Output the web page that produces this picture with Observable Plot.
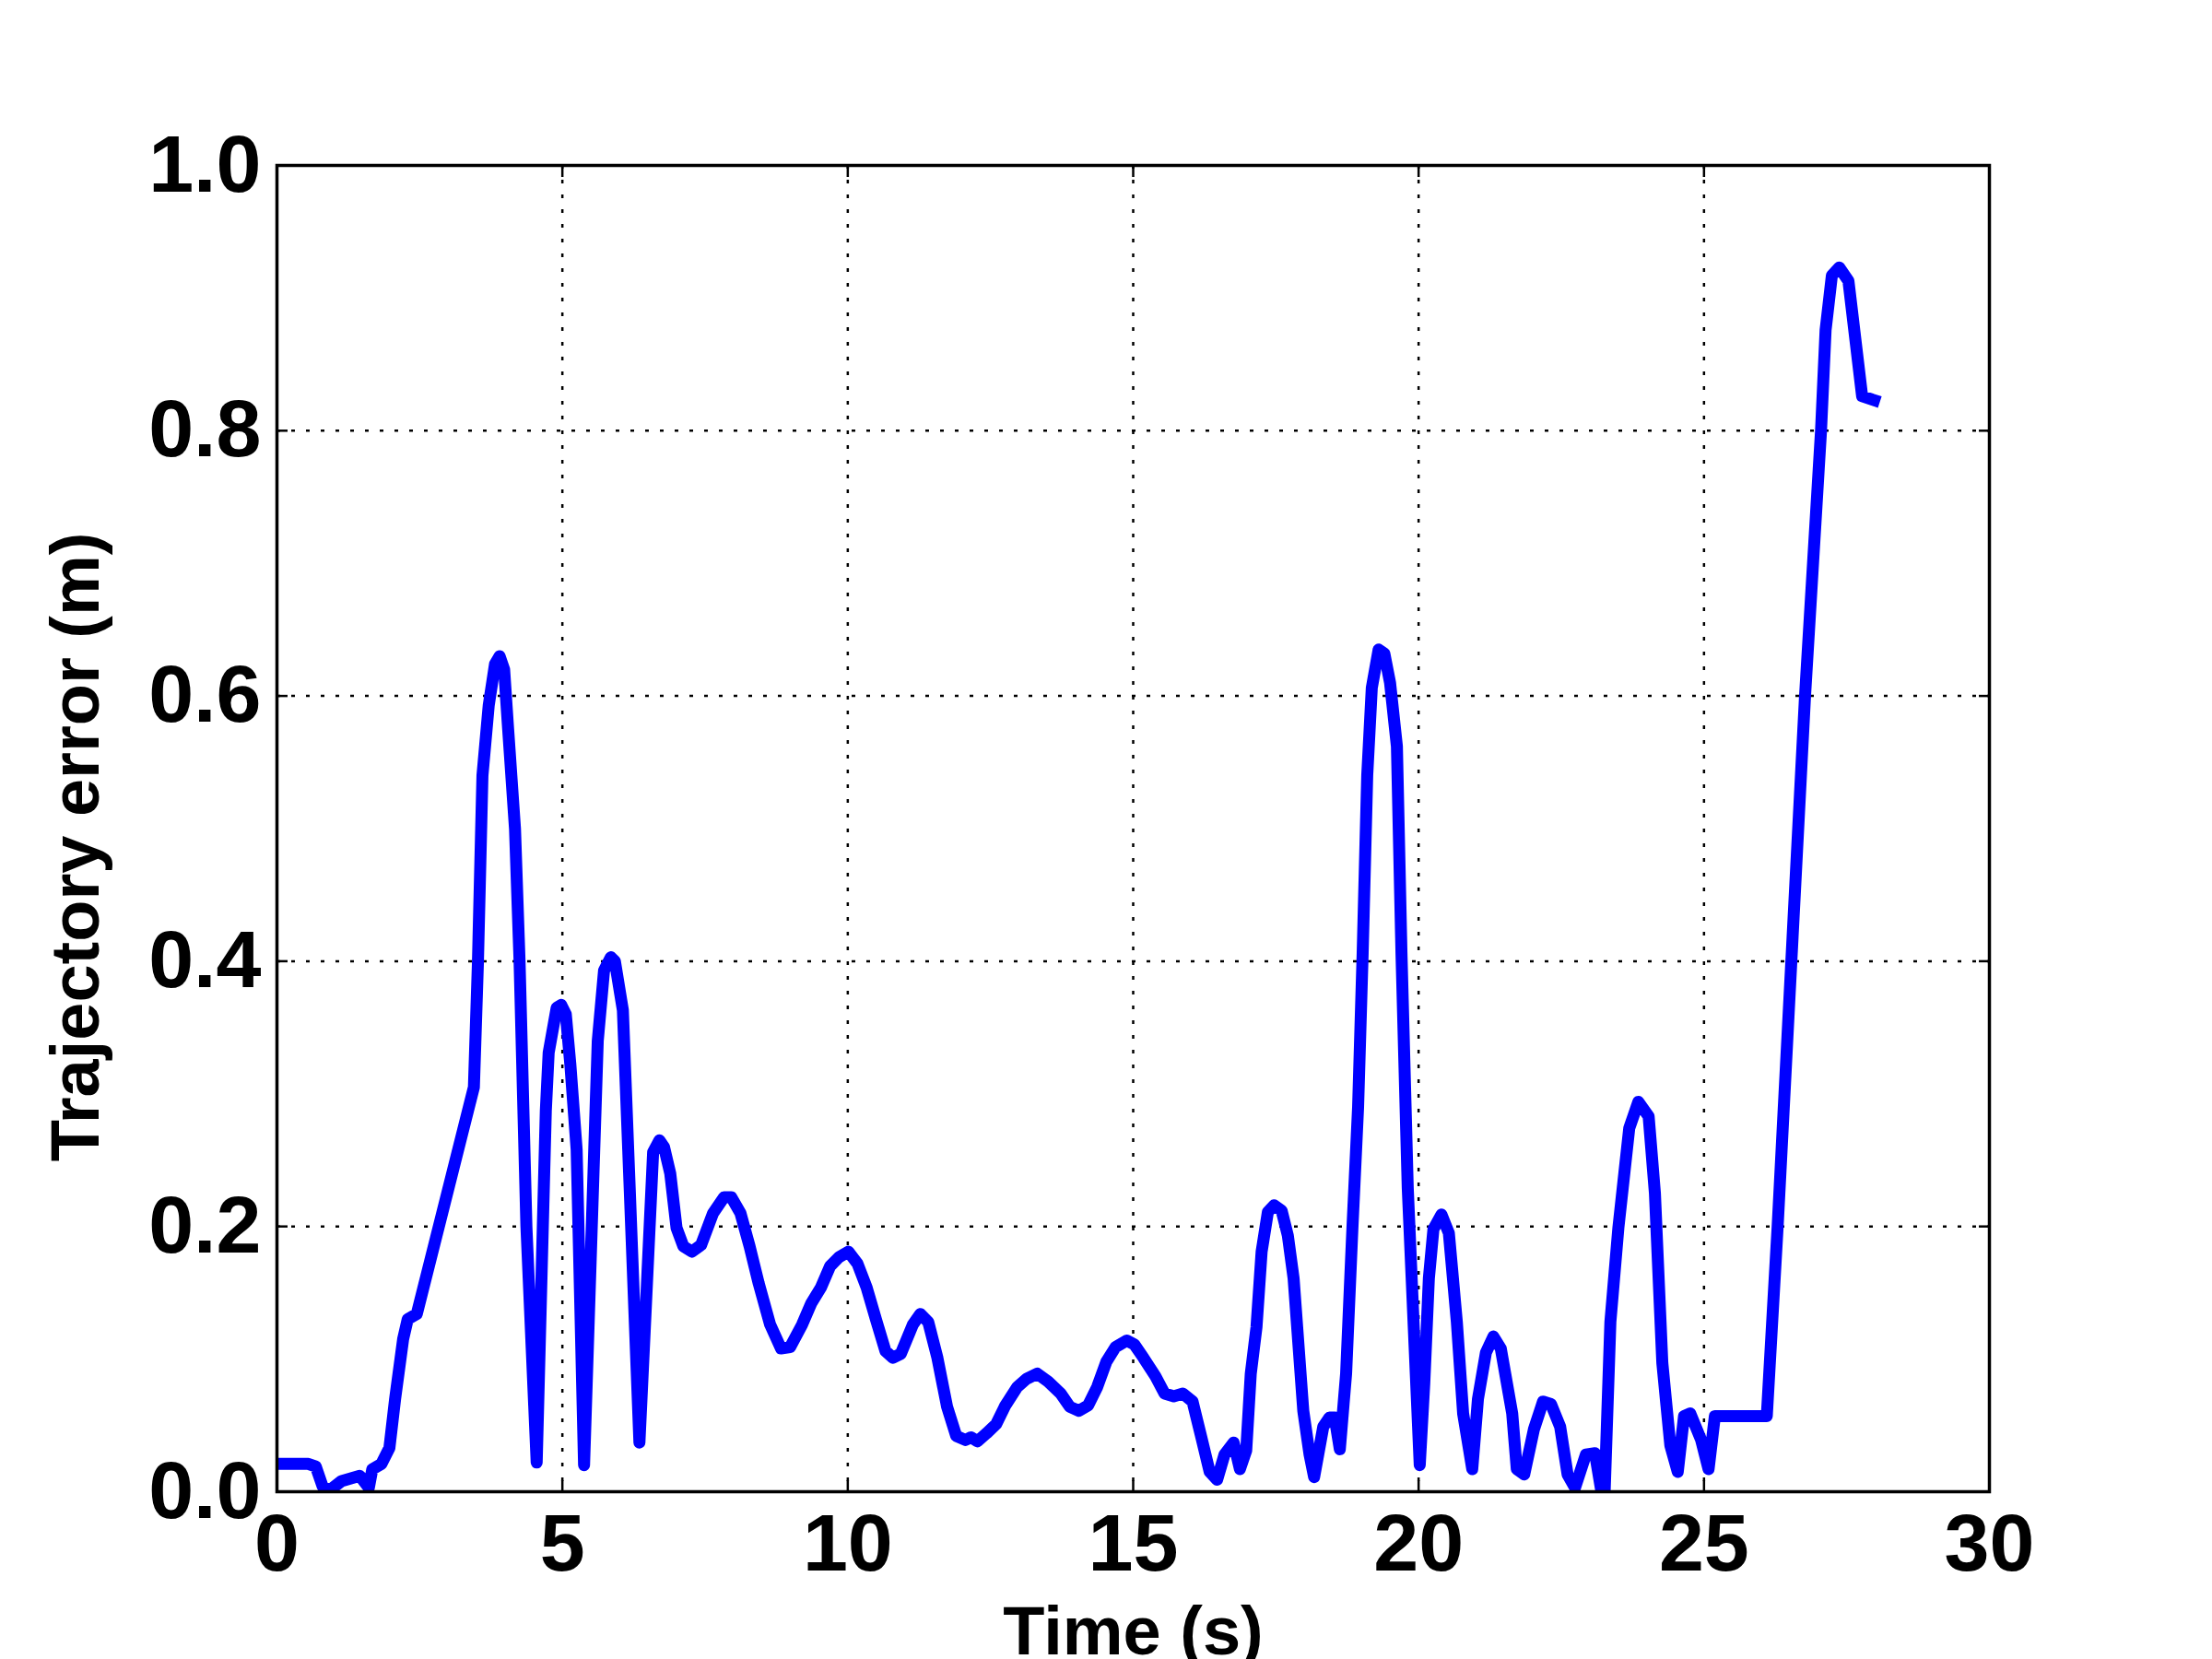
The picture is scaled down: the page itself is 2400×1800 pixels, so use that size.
<!DOCTYPE html>
<html>
<head>
<meta charset="utf-8">
<script src="https://cdn.jsdelivr.net/npm/d3@7"></script>
<script src="https://cdn.jsdelivr.net/npm/@observablehq/plot@0.6"></script>
<style>
  html, body { margin: 0; padding: 0; background: white; overflow: hidden; }
  #chart svg { display: block; }
</style>
</head>
<body>
<div id="chart"></div>
<script>
const time = [0, 0.55, 0.68, 0.8, 0.92, 1.13, 1.45, 1.61, 1.67, 1.83, 1.97, 2.07, 2.21, 2.29, 2.45,
  3.45, 3.52, 3.6, 3.71, 3.82, 3.9, 3.98, 4.05, 4.17, 4.25, 4.37, 4.55,
  4.71, 4.76, 4.9, 4.98, 5.06, 5.14, 5.25, 5.38, 5.62, 5.73, 5.85, 5.92, 6.06, 6.35,
  6.59, 6.7, 6.78, 6.89, 7.0, 7.12, 7.27, 7.43, 7.64, 7.83, 7.96, 8.12, 8.28, 8.44, 8.64, 8.83, 8.99,
  9.2, 9.36, 9.53, 9.69, 9.85, 10.01, 10.17, 10.33, 10.5, 10.66, 10.79, 10.93, 11.14, 11.27, 11.41,
  11.57, 11.74, 11.9, 12.06, 12.16, 12.27, 12.43, 12.6, 12.76, 12.97, 13.13, 13.32, 13.51, 13.73,
  13.89, 14.05, 14.21, 14.37, 14.53, 14.69, 14.89, 15.02, 15.18, 15.39, 15.55, 15.71, 15.87, 16.04,
  16.2, 16.34, 16.47, 16.6, 16.76, 16.87, 16.98, 17.06, 17.16, 17.25, 17.36, 17.47, 17.6, 17.71,
  17.81, 17.98, 18.09, 18.17, 18.33, 18.44, 18.53, 18.62, 18.73, 18.84, 18.94, 19.02, 19.1, 19.18,
  19.3, 19.4, 19.5, 19.62, 19.7, 19.81, 20.02, 20.1, 20.18, 20.26, 20.4, 20.53, 20.67, 20.78, 20.94,
  21.04, 21.18, 21.31, 21.44, 21.64, 21.72, 21.85, 22.02, 22.18, 22.32, 22.48, 22.61, 22.74, 22.93,
  23.09, 23.25, 23.36, 23.5, 23.69, 23.85, 24.03, 24.14, 24.27, 24.41, 24.54, 24.65, 24.76, 24.95,
  25.08, 25.19, 26.1, 26.29, 26.53, 26.77, 27.05, 27.13, 27.24, 27.37, 27.53, 27.77, 27.98];

const error = [0.021, 0.021, 0.019, 0.004, 0.001, 0.008, 0.012, 0.003, 0.017, 0.021, 0.033, 0.07, 0.115, 0.13, 0.134,
  0.305, 0.398, 0.54, 0.593, 0.624, 0.63, 0.62, 0.575, 0.5, 0.4, 0.2, 0.022,
  0.287, 0.331, 0.365, 0.367, 0.36, 0.322, 0.258, 0.02, 0.34, 0.393, 0.403, 0.4, 0.363, 0.037,
  0.256, 0.265, 0.26, 0.24, 0.199, 0.185, 0.181, 0.186, 0.21, 0.222, 0.222, 0.21, 0.185, 0.157, 0.126, 0.108, 0.109,
  0.126, 0.142, 0.154, 0.17, 0.177, 0.181, 0.172, 0.154, 0.129, 0.106, 0.101, 0.104, 0.126, 0.134, 0.128,
  0.101, 0.064, 0.042, 0.039, 0.041, 0.038, 0.044, 0.051, 0.065, 0.079, 0.085, 0.089, 0.083, 0.074,
  0.064, 0.061, 0.065, 0.079, 0.098, 0.109, 0.114, 0.111, 0.101, 0.087, 0.074, 0.072, 0.074, 0.068,
  0.04, 0.015, 0.009, 0.028, 0.037, 0.017, 0.031, 0.089, 0.124, 0.181, 0.211, 0.216, 0.212, 0.193,
  0.161, 0.061, 0.028, 0.011, 0.049, 0.056, 0.056, 0.032, 0.089, 0.198, 0.29, 0.406, 0.54, 0.606,
  0.635, 0.632, 0.61, 0.562, 0.406, 0.229, 0.02, 0.082, 0.161, 0.198, 0.209, 0.195, 0.128, 0.059, 0.017,
  0.07, 0.105, 0.117, 0.108, 0.059, 0.017, 0.013, 0.047, 0.068, 0.066, 0.049, 0.013, 0.003, 0.028,
  0.029, -0.012, 0.128, 0.199, 0.274, 0.294, 0.283, 0.225, 0.097, 0.035, 0.015, 0.057, 0.059, 0.039,
  0.017, 0.057, 0.057, 0.2, 0.4, 0.6, 0.8, 0.876, 0.917, 0.923, 0.913, 0.826, 0.823];

const xTicks = [0, 5, 10, 15, 20, 25, 30];
const yTicks = [0, 0.2, 0.4, 0.6, 0.8, 1.0];
const xLabel = "Time (s)";
const yLabel = "Trajectory error (m)";

const data = time.map((t, i) => ({t, e: error[i]}));

const gridStyle = {stroke: "black", strokeOpacity: 1, strokeWidth: 2.5, strokeDasharray: "4,12"};
const noLabel = () => "";

const chart = Plot.plot({
  width: 2400,
  height: 1800,
  marginLeft: 300,
  marginRight: 242,
  marginTop: 179,
  marginBottom: 182,
  x: {domain: [0, 30]},
  y: {domain: [0, 1]},
  style: {fontFamily: "'Liberation Sans', Arial, Helvetica, sans-serif", fontWeight: "bold", background: "white", color: "black", overflow: "hidden"},
  marks: [
    Plot.gridX(xTicks, gridStyle),
    Plot.gridY(yTicks, gridStyle),
    Plot.line(data, {x: "t", y: "e", stroke: "#0000ff", strokeWidth: 13, strokeLinejoin: "round", strokeLinecap: "square", clip: true}),
    Plot.frame({stroke: "black", strokeWidth: 3.5}),
    Plot.axisX(xTicks, {anchor: "bottom", tickSize: -12, tickPadding: 35, fontSize: 88, fontWeight: "bold", strokeWidth: 2.5, tickFormat: d => String(d), label: null}),
    Plot.axisX(xTicks, {anchor: "top", tickSize: -12, strokeWidth: 2.5, tickFormat: noLabel, label: null}),
    Plot.axisY(yTicks, {anchor: "left", tickSize: -12, tickPadding: 29, fontSize: 88, fontWeight: "bold", strokeWidth: 2.5, tickFormat: d => d.toFixed(1), label: null}),
    Plot.axisY(yTicks, {anchor: "right", tickSize: -12, strokeWidth: 2.5, tickFormat: noLabel, label: null}),
    Plot.text([xLabel], {frameAnchor: "bottom", dy: 153, fontSize: 74, fontWeight: "bold", textAnchor: "middle", lineAnchor: "middle", fill: "black"}),
    Plot.text([yLabel], {frameAnchor: "left", dx: -217, dy: 20, rotate: -90, fontSize: 74, fontWeight: "bold", textAnchor: "middle", lineAnchor: "middle", fill: "black"})
  ]
});

document.getElementById("chart").appendChild(chart);
</script>
</body>
</html>
